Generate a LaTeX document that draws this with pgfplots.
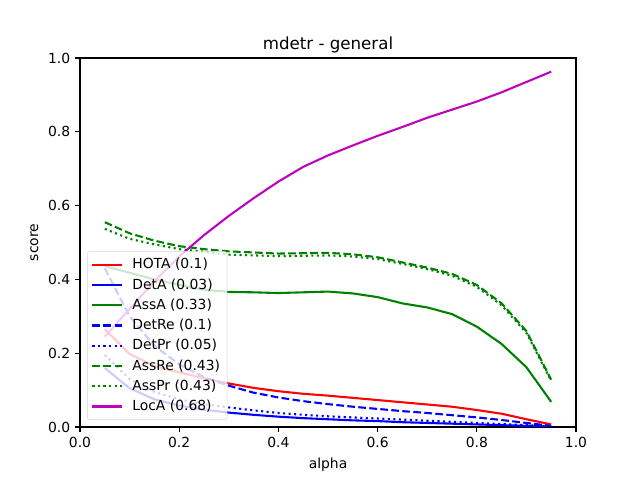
\documentclass[border=0pt]{standalone}
\usepackage{fontspec}
\setmainfont{DejaVu Sans}
\usepackage{pgfplots}
\usepackage{pgfplotstable}
\pgfplotsset{compat=1.18}
\definecolor{mplred}{rgb}{1,0,0}
\definecolor{mplblue}{rgb}{0,0,1}
\definecolor{mplgreen}{rgb}{0,0.5,0}
\definecolor{mplmag}{rgb}{0.75,0,0.75}
\pgfplotstableread{
alpha HOTA DetA AssA DetRe DetPr AssRe AssPr LocA
0.05 0.265 0.160 0.436 0.430 0.195 0.555 0.537 0.245
0.10 0.198 0.105 0.418 0.300 0.130 0.525 0.510 0.320
0.15 0.165 0.075 0.400 0.220 0.095 0.505 0.495 0.395
0.20 0.148 0.058 0.385 0.170 0.075 0.490 0.482 0.462
0.25 0.132 0.047 0.372 0.135 0.062 0.482 0.475 0.520
0.30 0.118 0.039 0.366 0.112 0.053 0.476 0.467 0.572
0.35 0.106 0.033 0.365 0.093 0.045 0.473 0.465 0.620
0.40 0.097 0.028 0.363 0.080 0.038 0.470 0.463 0.665
0.45 0.090 0.024 0.365 0.070 0.033 0.471 0.464 0.705
0.50 0.085 0.021 0.367 0.062 0.029 0.472 0.465 0.736
0.55 0.079 0.018 0.362 0.055 0.026 0.468 0.462 0.763
0.60 0.073 0.016 0.352 0.049 0.023 0.460 0.455 0.789
0.65 0.067 0.013 0.335 0.043 0.020 0.446 0.442 0.813
0.70 0.061 0.011 0.324 0.038 0.017 0.432 0.428 0.838
0.75 0.055 0.009 0.306 0.032 0.014 0.415 0.410 0.860
0.80 0.046 0.007 0.272 0.026 0.011 0.385 0.380 0.882
0.85 0.036 0.005 0.225 0.019 0.008 0.335 0.330 0.907
0.90 0.021 0.003 0.162 0.011 0.005 0.260 0.255 0.935
0.95 0.007 0.001 0.068 0.003 0.002 0.128 0.125 0.963
}\datatab
\begin{document}
\begin{tikzpicture}
\begin{axis}[
  set layers,
  at={(0,0)}, anchor=south west,
  scale only axis,
  width=357.12pt, height=265.68pt,
  xmin=0, xmax=1, ymin=0, ymax=1,
  xtick={0,0.2,0.4,0.6,0.8,1.0},
  ytick={0,0.2,0.4,0.6,0.8,1.0},
  xticklabel style={/pgf/number format/.cd,fixed,fixed zerofill,precision=1},
  yticklabel style={/pgf/number format/.cd,fixed,fixed zerofill,precision=1},
  /pgf/number format/assume math mode=true,
  tick align=outside,
  major tick length=3.5pt,
  xtick pos=bottom, ytick pos=left,
  tick style={black, line width=0.8pt},
  axis line style={line width=0.8pt},
  tick label style={font=\fontsize{10}{12}\selectfont},
  xlabel={alpha}, ylabel={score},
  label style={font=\fontsize{10}{12}\selectfont},
  xlabel style={at={(0.5,0)}, anchor=north, yshift=-19pt},
  ylabel style={at={(0,0.5)}, anchor=south, yshift=26.5pt},
  title={mdetr - general},
  title style={font=\fontsize{12}{14}\selectfont, at={(0.5,1)}, anchor=south, yshift=-6pt},
  legend style={at={(0,0)}, xshift=5pt, yshift=5pt, anchor=south west,
    font=\fontsize{10}{12}\selectfont,
    draw=black!20, fill=white, fill opacity=0.8, draw opacity=0.8, text opacity=1,
    rounded corners=2pt, inner xsep=3pt, inner ysep=3pt, row sep=1.5pt,
    /tikz/every odd column/.append style={column sep=5pt}},
  legend cell align=left,
  legend image code/.code={\draw[line width=1.5pt,draw opacity=1,#1] (0pt,0pt) -- (21pt,0pt);},
]
\addplot[mplred, solid, line width=1.5pt] table[x=alpha,y=HOTA] {\datatab};
\addlegendentry{HOTA (0.1)}
\addplot[mplblue, solid, line width=1.5pt] table[x=alpha,y=DetA] {\datatab};
\addlegendentry{DetA (0.03)}
\addplot[mplgreen, solid, line width=1.5pt] table[x=alpha,y=AssA] {\datatab};
\addlegendentry{AssA (0.33)}
\addplot[mplblue, line width=1.5pt, dash pattern=on 5.55pt off 2.4pt] table[x=alpha,y=DetRe] {\datatab};
\addlegendentry{DetRe (0.1)}
\addplot[mplblue, line width=1.5pt, dash pattern=on 1.5pt off 2.475pt] table[x=alpha,y=DetPr] {\datatab};
\addlegendentry{DetPr (0.05)}
\addplot[mplgreen, line width=1.5pt, dash pattern=on 5.55pt off 2.4pt] table[x=alpha,y=AssRe] {\datatab};
\addlegendentry{AssRe (0.43)}
\addplot[mplgreen, line width=1.5pt, dash pattern=on 1.5pt off 2.475pt] table[x=alpha,y=AssPr] {\datatab};
\addlegendentry{AssPr (0.43)}
\addplot[mplmag, solid, line width=1.5pt] table[x=alpha,y=LocA] {\datatab};
\addlegendentry{LocA (0.68)}
\end{axis}
\pgfresetboundingbox
\useasboundingbox (-57.6pt,-38.16pt) rectangle (403.2pt,307.44pt);
\end{tikzpicture}
\end{document}
